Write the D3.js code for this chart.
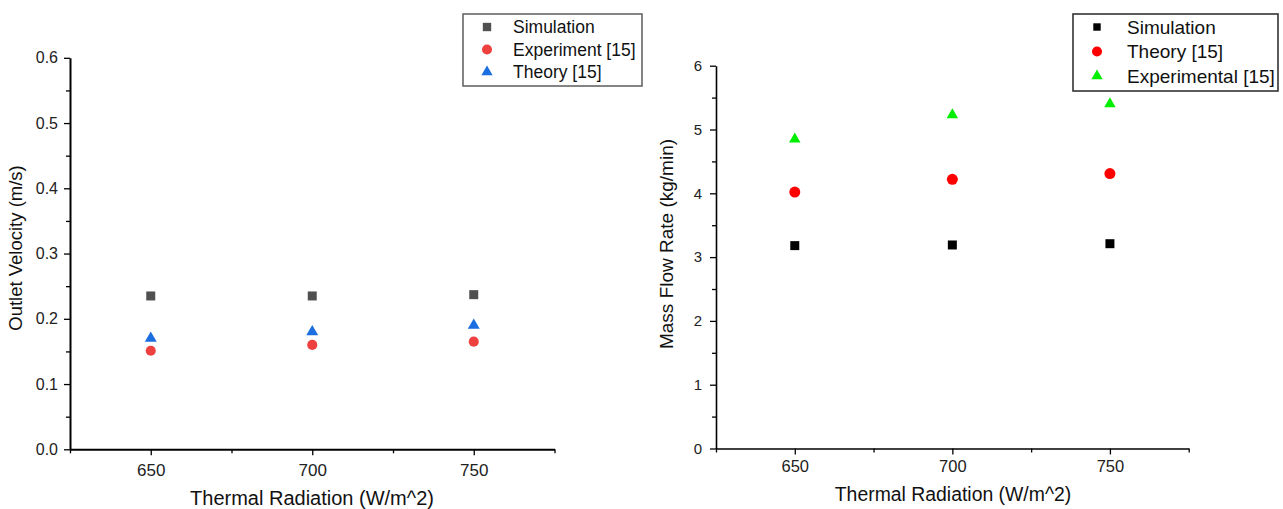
<!DOCTYPE html>
<html><head><meta charset="utf-8">
<script src="https://cdn.jsdelivr.net/npm/d3@7"></script>
<style>body{margin:0;background:#fff}svg{display:block}text{font-family:"Liberation Sans",Arial,sans-serif}</style>
</head><body>
<svg id="c" width="1283" height="509"></svg>
<script>
const radiation = [650, 700, 750];
const xTicksMajor = [650, 700, 750];
// Left chart: Outlet Velocity (m/s)
const velSimulation = [0.235, 0.235, 0.237];
const velExperiment = [0.151, 0.160, 0.165];
const velTheory = [0.170, 0.180, 0.190];
const velTicks = [0.0, 0.1, 0.2, 0.3, 0.4, 0.5, 0.6];
// Right chart: Mass Flow Rate (kg/min)
const mfrSimulation = [3.18, 3.19, 3.21];
const mfrTheory = [4.02, 4.22, 4.31];
const mfrExperimental = [4.85, 5.23, 5.40];
const mfrTicks = [0, 1, 2, 3, 4, 5, 6];

const svg = d3.select("#c");

function panel(o) {
  const g = svg.append("g");
  const x = d3.scaleLinear().domain([625, 775]).range([o.x0, o.x1]);
  const y = d3.scaleLinear().domain(o.ydom).range([o.y0, o.y1]);
  // x axis minor ticks
  g.append("g").attr("transform", `translate(0,${o.y0})`)
    .call(d3.axisBottom(x).tickValues([625, 675, 725, 775]).tickSize(4).tickFormat(""))
    .call(a => a.select(".domain").remove())
    .selectAll("line").attr("stroke", "#000").attr("stroke-width", 1.3);
  const xa = g.append("g").attr("transform", `translate(0,${o.y0})`)
    .call(d3.axisBottom(x).tickValues(xTicksMajor).tickSize(6).tickPadding(o.xPad).tickSizeOuter(0));
  xa.select(".domain").attr("stroke", "#000").attr("stroke-width", o.axisW);
  xa.selectAll("line").attr("stroke", "#000").attr("stroke-width", 1.3);
  xa.selectAll("text").style("font-size", o.xTickFont + "px").attr("fill", "#222");
  // y axis minor ticks
  const minor = [];
  for (let i = 0; i < o.yticks.length - 1; i++) minor.push((o.yticks[i] + o.yticks[i + 1]) / 2);
  g.append("g").attr("transform", `translate(${o.x0},0)`)
    .call(d3.axisLeft(y).tickValues(minor).tickSize(4).tickFormat(""))
    .call(a => a.select(".domain").remove())
    .selectAll("line").attr("stroke", "#000").attr("stroke-width", 1.3);
  const ya = g.append("g").attr("transform", `translate(${o.x0},0)`)
    .call(d3.axisLeft(y).tickValues(o.yticks).tickSize(6).tickPadding(o.yPad).tickSizeOuter(0).tickFormat(o.fmt));
  ya.select(".domain").attr("stroke", "#000").attr("stroke-width", o.axisW);
  ya.selectAll("line").attr("stroke", "#000").attr("stroke-width", 1.3);
  ya.selectAll("text").style("font-size", o.yTickFont + "px").attr("fill", "#222");
  // titles
  g.append("text").attr("x", o.xtX).attr("y", o.xtY).attr("text-anchor", "middle")
    .style("font-size", o.xTitleFont + "px").attr("fill", "#111").text("Thermal Radiation (W/m^2)");
  g.append("text").attr("transform", `translate(${o.ytX},${o.ytY}) rotate(-90)`)
    .attr("text-anchor", "middle").style("font-size", o.yTitleFont + "px").attr("fill", "#111").text(o.ylabel);
  // series
  o.series.forEach(s => {
    g.append("g").selectAll("path").data(s.vals).join("path")
      .attr("transform", (d, i) => `translate(${x(radiation[i])},${y(d)})`)
      .attr("d", d3.symbol().type(s.sym).size(s.size))
      .attr("fill", s.color);
  });
  // legend
  const lg = g.append("g");
  lg.append("rect").attr("x", o.lx).attr("y", o.ly).attr("width", o.lw).attr("height", o.lh)
    .attr("fill", "#fff").attr("stroke", o.lstroke).attr("stroke-width", 1.6);
  o.series.forEach((s, i) => {
    const cy = o.ly + o.lrow0 + i * o.lstep;
    lg.append("path").attr("transform", `translate(${o.lx + o.lsym},${cy})`)
      .attr("d", d3.symbol().type(s.sym).size(s.lsize)).attr("fill", s.color);
    lg.append("text").attr("x", o.lx + o.ltx).attr("y", cy).attr("dy", "0.35em")
      .style("font-size", o.legFont + "px").attr("fill", "#111").text(s.name);
  });
}

panel({
  x0: 70, x1: 554.5, y0: 449.3, y1: 57.8, ydom: [0, 0.6], yticks: velTicks, fmt: d3.format(".1f"),
  xTickFont: 17, yTickFont: 16, xPad: 9, yPad: 6, axisW: 2,
  xTitleFont: 20, xtX: 312, xtY: 505, yTitleFont: 18.5, ytX: 22, ytY: 248, ylabel: "Outlet Velocity (m/s)",
  series: [
    {name: "Simulation", vals: velSimulation, sym: d3.symbolSquare, size: 81, lsize: 70, color: "#505050"},
    {name: "Experiment [15]", vals: velExperiment, sym: d3.symbolCircle, size: 80, lsize: 80, color: "#ef4040"},
    {name: "Theory [15]", vals: velTheory, sym: d3.symbolTriangle, size: 62, lsize: 55, color: "#1a6ee0"}
  ],
  lx: 463, ly: 14, lw: 179, lh: 72, lstroke: "#666", lrow0: 13, lstep: 22.5, lsym: 24, ltx: 50, legFont: 17.5
});

panel({
  x0: 716, x1: 1188.7, y0: 448.5, y1: 65.7, ydom: [0, 6], yticks: mfrTicks, fmt: d3.format("d"),
  xTickFont: 16.5, yTickFont: 15, xPad: 6, yPad: 8, axisW: 1.6,
  xTitleFont: 19.4, xtX: 953, xtY: 501, yTitleFont: 19, ytX: 673, ytY: 244, ylabel: "Mass Flow Rate (kg/min)",
  series: [
    {name: "Simulation", vals: mfrSimulation, sym: d3.symbolSquare, size: 81, lsize: 55, color: "#000"},
    {name: "Theory [15]", vals: mfrTheory, sym: d3.symbolCircle, size: 95, lsize: 80, color: "#ff0000"},
    {name: "Experimental [15]", vals: mfrExperimental, sym: d3.symbolTriangle, size: 57, lsize: 55, color: "#00ee00"}
  ],
  lx: 1073, ly: 14, lw: 205, lh: 77, lstroke: "#333", lrow0: 13, lstep: 24.5, lsym: 24, ltx: 54, legFont: 19
});
</script>
</body></html>
